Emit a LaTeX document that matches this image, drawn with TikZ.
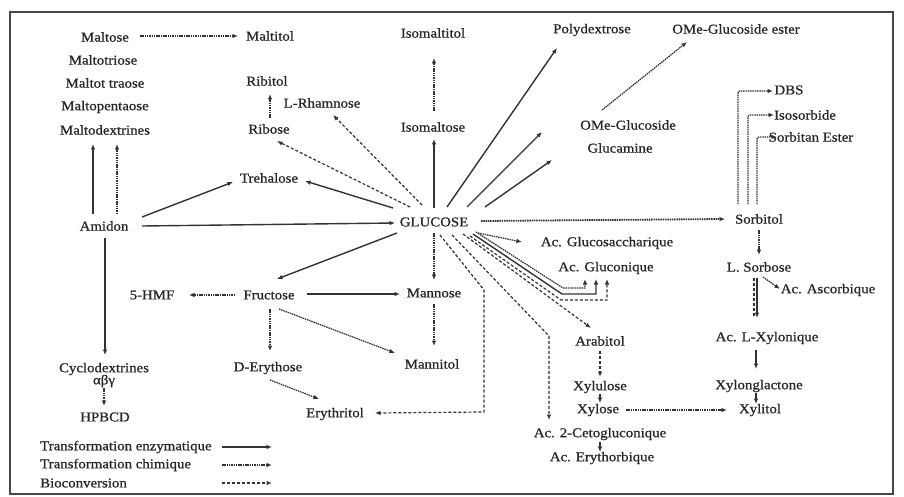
\documentclass[tikz,border=0pt]{standalone}
\usepackage{fontspec}
\setmainfont[FakeStretch=1.1,FakeBold=0.8]{Liberation Serif}
\usetikzlibrary{calc,arrows.meta}
\definecolor{ink}{HTML}{262626}
\definecolor{lineink}{HTML}{333333}
\begin{document}
\begin{tikzpicture}[x=1pt,y=-1pt,
  lbl/.style={inner sep=0pt, text=ink, font=\fontsize{13.5}{15}\selectfont},
  tip/.style={-{Latex[length=5.5pt,width=4.5pt]}},
  enz/.style={draw=lineink, line width=1.4pt, tip},
  chim/.style={draw=lineink, line width=1.25pt, dash pattern=on 1.5pt off 0.8pt, tip},
  bio/.style={draw=lineink, line width=1.2pt, dash pattern=on 3pt off 2pt, tip},
  frame/.style={draw=ink!85, line width=1.3pt}
]
\useasboundingbox (0,0) rectangle (904,497);
\draw[frame] (10,12) rectangle (893,494);

% ---- nodes ----
\node[lbl] (Maltose) at (105,37) {Maltose};
\node[lbl] (Maltitol) at (270,36) {Maltitol};
\node[lbl] (Maltotriose) at (103,60) {Maltotriose};
\node[lbl] (Maltottraose) at (105,83) {Maltot traose};
\node[lbl] (Maltopentaose) at (105,107) {Maltopentaose};
\node[lbl] (Maltodextrines) at (105,130) {Maltodextrines};
\node[lbl] (Amidon) at (104,226) {Amidon};
\node[lbl] (Ribitol) at (267,81) {Ribitol};
\node[lbl] (LRhamnose) at (322,103) {L-Rhamnose};
\node[lbl] (Ribose) at (269,129) {Ribose};
\node[lbl] (Trehalose) at (269,178) {Trehalose};
\node[lbl] (Isomaltitol) at (433,33) {Isomaltitol};
\node[lbl] (Isomaltose) at (433,127) {Isomaltose};
\node[lbl] (Polydextrose) at (592,30) {Polydextrose};
\node[lbl] (OMeEster) at (736,29) {OMe-Glucoside ester};
\node[lbl] (OMeGlucoside) at (628,125) {OMe-Glucoside};
\node[lbl] (Glucamine) at (620,148) {Glucamine};
\node[lbl] (DBS) at (789,90) {DBS};
\node[lbl] (Isosorbide) at (805,115) {Isosorbide};
\node[lbl] (SorbitanEster) at (811,137) {Sorbitan Ester};
\node[lbl] (GLUCOSE) at (434,222) {GLUCOSE};
\node[lbl] (Sorbitol) at (759,219) {Sorbitol};
\node[lbl] (Glucosaccharique) at (607,243) {Ac. Glucosaccharique};
\node[lbl] (Gluconique) at (606,268) {Ac. Gluconique};
\node[lbl] (LSorbose) at (759,267) {L. Sorbose};
\node[lbl] (Ascorbique) at (828,290) {Ac. Ascorbique};
\node[lbl] (Xylonique) at (767,338) {Ac. L-Xylonique};
\node[lbl] (Fructose) at (269,295) {Fructose};
\node[lbl] (HMF) at (152,295) {5-HMF};
\node[lbl] (Mannose) at (434,293) {Mannose};
\node[lbl] (Mannitol) at (432,364) {Mannitol};
\node[lbl] (Arabitol) at (600,341) {Arabitol};
\node[lbl] (Xylulose) at (600,387) {Xylulose};
\node[lbl] (Xylose) at (598,410) {Xylose};
\node[lbl] (Cetogluconique) at (600,434) {Ac. 2-Cetogluconique};
\node[lbl] (Erythorbique) at (602,458) {Ac. Erythorbique};
\node[lbl] (Xylonglactone) at (759,386) {Xylonglactone};
\node[lbl] (Xylitol) at (760,410) {Xylitol};
\node[lbl] (DErythose) at (268,368) {D-Erythose};
\node[lbl] (Erythritol) at (335,414) {Erythritol};
\node[lbl] (Cyclo) at (104,369) {Cyclodextrines};
\node[lbl] (abg) at (104,381) {αβγ};
\node[lbl] (HPBCD) at (105,417) {HPBCD};
\node[lbl,anchor=west] (LegEnz) at (40,447) {Transformation enzymatique};
\node[lbl,anchor=west] (LegChim) at (40,465) {Transformation chimique};
\node[lbl,anchor=west] (LegBio) at (40,483) {Bioconversion};

% bend points
\coordinate (b1) at (484,290);
\coordinate (b2) at (484,412);
\coordinate (b3) at (549,336);
\coordinate (g1) at (563,288);
\coordinate (g2) at (562,294);
\coordinate (g3) at (561,300);
\coordinate (e1) at (222,447); \coordinate (e2) at (272,447);
\coordinate (c1) at (222,465); \coordinate (c2) at (272,465);
\coordinate (d1) at (222,483); \coordinate (d2) at (272,483);

% ---- connectors ----
\draw[chim] ($(Maltose)+(35,-1)$) -- ($(Maltitol)+(-32,0)$);
\draw[enz] ($(Amidon)+(-11,-12)$) -- ($(Maltodextrines)+(-12,14)$);
\draw[chim] ($(Amidon)+(13,-12)$) -- ($(Maltodextrines)+(12,14)$);
\draw[enz] ($(Amidon)+(38,-9)$) -- ($(Trehalose)+(-36,4)$);
\draw[enz] ($(Amidon)+(38,0)$) -- ($(GLUCOSE)+(-39,1)$);
\draw[enz] ($(Amidon)+(1,12)$) -- ($(Cyclo)+(1,-14)$);
\draw[chim] ($(abg)+(0,7)$) -- ($(HPBCD)+(-1,-11)$);

\draw[enz] ($(GLUCOSE)+(-41,-14)$) -- ($(Trehalose)+(36,3)$);
\draw[enz] ($(GLUCOSE)+(-37,11)$) -- ($(Fructose)+(8,-16)$);
\draw[bio] ($(GLUCOSE)+(-24,-15)$) -- ($(Ribose)+(8,12)$);
\draw[bio] ($(GLUCOSE)+(-12,-17)$) -- ($(LRhamnose)+(11,12)$);
\draw[chim] ($(Ribose)+(1,-11)$) -- ($(Ribitol)+(3,13)$);
\draw[enz] ($(GLUCOSE)+(0,-14)$) -- ($(Isomaltose)+(1,12)$);
\draw[chim] ($(Isomaltose)+(1,-16)$) -- ($(Isomaltitol)+(1,25)$);
\draw[enz] ($(GLUCOSE)+(13,-15)$) -- ($(Polydextrose)+(-35,18)$);
\draw[enz] ($(GLUCOSE)+(33,-15)$) -- ($(OMeGlucoside)+(-86,7)$);
\draw[enz] ($(GLUCOSE)+(51,-15)$) -- ($(Glucamine)+(-68,12)$);
\draw[chim] ($(OMeGlucoside)+(-26,-15)$) -- ($(OMeEster)+(-49,13)$);

\draw[chim,line width=1.8pt] ($(GLUCOSE)+(47,-1)$) -- ($(Sorbitol)+(-34,0)$);
\draw[chim,rounded corners=2pt] ($(Sorbitol)+(-21,-15)$) |- ($(DBS)+(-16,1)$);
\draw[chim,rounded corners=2pt] ($(Sorbitol)+(-11,-15)$) |- ($(Isosorbide)+(-31,0)$);
\draw[chim,rounded corners=2pt] ($(Sorbitol)+(-2,-15)$) |- ($(SorbitanEster)+(-34,0)$);
\draw[chim] ($(Sorbitol)+(0,11)$) -- ($(LSorbose)+(0,-12)$);
\draw[chim] ($(LSorbose)+(4,10)$) -- ($(Ascorbique)+(-48,-1)$);
\draw[enz] ($(LSorbose)+(-2,11)$) -- ($(Xylonique)+(-10,-20)$);
\draw[bio,-] ($(LSorbose)+(-5,11)$) -- ($(Xylonique)+(-13,-22)$);
\draw[enz] ($(Xylonique)+(-11,12)$) -- ($(Xylonglactone)+(-3,-17)$);
\draw[enz] ($(Xylonglactone)+(-3,7)$) -- ($(Xylitol)+(-4,-6)$);
\draw[chim] ($(Xylose)+(28,0)$) -- ($(Xylitol)+(-33,0)$);

\draw[chim] ($(GLUCOSE)+(0,11)$) -- ($(Mannose)+(0,-13)$);
\draw[chim] ($(Mannose)+(0,11)$) -- ($(Mannitol)+(2,-18)$);
\draw[enz] ($(Fructose)+(38,-1)$) -- ($(Mannose)+(-34,1)$);
\draw[chim] ($(Fructose)+(-34,0)$) -- ($(HMF)+(37,0)$);
\draw[chim] ($(Fructose)+(10,14)$) -- ($(Mannitol)+(-37,-11)$);
\draw[chim] ($(Fructose)+(1,14)$) -- ($(DErythose)+(2,-17)$);
\draw[chim] ($(DErythose)+(2,12)$) -- ($(Erythritol)+(-16,-15)$);

\draw[bio] ($(GLUCOSE)+(6,13)$) -- (b1) -- (b2) -- ($(Erythritol)+(40,-1)$);
\draw[bio] ($(GLUCOSE)+(18,13)$) -- (b3) -- ($(Cetogluconique)+(-51,-14)$);
\draw[bio] ($(GLUCOSE)+(29,12)$) -- ($(Arabitol)+(-9,-13)$);
\draw[bio] ($(Arabitol)+(0,10)$) -- ($(Xylulose)+(0,-10)$);
\draw[enz] ($(Xylulose)+(0,7)$) -- ($(Xylose)+(2,-7)$);
\draw[enz] ($(Cetogluconique)+(0,8)$) -- ($(Erythorbique)+(-2,-6)$);
\draw[chim] ($(GLUCOSE)+(44,11)$) -- ($(Glucosaccharique)+(-85,-1)$);

\draw[chim] ($(GLUCOSE)+(42,10)$) -- (g1) -| ($(Gluconique)+(-21,11)$);
\draw[enz] ($(GLUCOSE)+(39,12)$) -- (g2) -| ($(Gluconique)+(-10,11)$);
\draw[bio] ($(GLUCOSE)+(36,14)$) -- (g3) -| ($(Gluconique)+(1,11)$);

% legend
\draw[enz] (e1) -- (e2);
\draw[chim] (c1) -- (c2);
\draw[bio] (d1) -- (d2);
\end{tikzpicture}
\end{document}
